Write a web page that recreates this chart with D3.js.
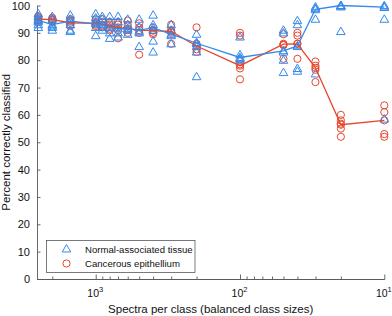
<!DOCTYPE html>
<html>
<head>
<meta charset="utf-8">
<script src="https://cdn.jsdelivr.net/npm/d3@7"></script>
<style>
  body { margin: 0; background: #fff; }
  text { font-family: "Liberation Sans", Arial, Helvetica, sans-serif; }
</style>
</head>
<body>
<div id="chart"></div>
<script>
'use strict';

// spectra per class (x positions, log scale, reversed)
const sizes = [2500, 2000, 1500, 1000, 900, 800, 700, 600, 500, 400, 300, 200, 100, 50, 40, 30, 20, 10];

// individual runs, normal-associated tissue (triangles)
const normalPts = [
  [97, 96, 95, 94.5, 94, 93, 92],
  [96, 95, 93, 92.5, 92, 91],
  [96.5, 95, 94.3, 93, 91, 90.5],
  [97, 95.5, 94, 93.3, 92, 89],
  [96, 95, 93, 92, 91],
  [96, 94, 92, 90, 88],
  [96, 94, 91.5, 90, 88.5],
  [95, 93, 91.5, 91, 89.5],
  [95, 92, 90.6, 90, 85],
  [96.5, 93, 91.8, 91, 87, 83],
  [93, 91, 89.5, 89, 86],
  [89.5, 86.5, 86, 85, 83, 74],
  [88.5, 82, 81, 80.5, 80],
  [91, 90, 83.5, 83, 80, 75.5],
  [94.5, 93, 85.3, 85, 77, 76],
  [99.5, 99, 98.5, 95, 75],
  [100, 100, 99.8, 99.5, 90.5],
  [100, 99.5, 99.3, 95, 58.5]
];

// individual runs, cancerous epithelium (circles)
const cancerPts = [
  [96, 95.5, 95, 94.5, 94],
  [95.5, 95, 94.8, 94.5, 94],
  [95, 94.5, 93.7, 93, 92.5],
  [95, 94, 93.5, 93, 92.5],
  [95, 94, 93, 92.5, 92],
  [94, 93, 92.5, 91.5, 91],
  [94, 93, 92, 91, 88],
  [94.5, 93, 91.5, 91, 90],
  [93.5, 92, 91, 90, 82],
  [92, 91, 90.8, 90, 89.5],
  [93, 91, 90.5, 90, 86],
  [92, 86, 85.3, 84, 83],
  [90, 89, 78.5, 78, 77, 73],
  [89.5, 86, 85.7, 85.5, 80.5],
  [90, 89, 86, 86, 80.5],
  [79.5, 78, 77.2, 76.5, 72],
  [60, 58, 56.8, 56.4, 55, 52],
  [63.5, 61, 58, 53, 52]
];

// summary lines
const normalLine = [94.6, 93, 94.3, 93.3, 93, 92, 91.5, 91.5, 91, 91.8, 89.5, 86.2, 81, 83.4, 85.2, 98.6, 100, 99.4];
const cancerLine = [95, 94.8, 93.7, 93.5, 93, 92.5, 92, 91.5, 91, 90.8, 90.5, 85.2, 78, 85.9, 86, 77.2, 56.4, 58];

// axis ticks
const yTicks = [0, 10, 20, 30, 40, 50, 60, 70, 80, 90, 100];
const xMajor = [1000, 100, 10];
const xMinor = [2000, 900, 800, 700, 600, 500, 400, 300, 200, 90, 80, 70, 60, 50, 40, 30, 20];
const xExp = {1000: '3', 100: '2', 10: '1'};

const blue = '#3389ec';
const red = '#e8462c';

var svg = d3.select('#chart')
    .append('svg')
    .attr('width', 392)
    .attr('height', 316);

var margin = {top: 5.5, right: 7.7, bottom: 37, left: 37},
    width = 392 - margin.left - margin.right,
    height = 316 - margin.top - margin.bottom;

var x = d3.scaleLog().domain([2552, 10]).range([0, width]);
var y = d3.scaleLinear().domain([0, 100]).range([height, 0]);

var g = svg.append('g')
    .attr('transform', 'translate(' + margin.left + ',' + margin.top + ')');

// x axis: minor ticks first, then major with labels
g.append('g')
    .attr('class', 'axis axis--xminor')
    .attr('transform', 'translate(0,' + height + ')')
    .call(d3.axisBottom(x).tickValues(xMinor).tickSize(-2.5).tickSizeOuter(0).tickFormat(''));

var xAxis = g.append('g')
    .attr('class', 'axis axis--x')
    .attr('transform', 'translate(0,' + height + ')')
    .call(d3.axisBottom(x).tickValues(xMajor).tickSize(-4.5).tickSizeOuter(0).tickFormat(''));

xAxis.selectAll('.tick').append('text')
    .attr('y', 18)
    .attr('x', -1)
    .attr('fill', '#111')
    .attr('font-size', 10.5)
    .attr('text-anchor', 'middle')
    .each(function(d) {
      var t = d3.select(this);
      t.append('tspan').text('10');
      t.append('tspan').attr('dy', -5).attr('font-size', 7.5).text(xExp[d]);
    });

// y axis
g.append('g')
    .attr('class', 'axis axis--y')
    .call(d3.axisLeft(y).tickValues(yTicks).tickSize(-3.5).tickSizeOuter(0).tickPadding(7))
    .selectAll('text')
    .attr('font-size', 11)
    .attr('fill', '#111');

svg.selectAll('.axis path, .axis line').attr('stroke', '#555a60').attr('stroke-width', 0.9);

// axis titles
svg.append('text')
    .attr('x', margin.left + width / 2)
    .attr('y', 313)
    .attr('text-anchor', 'middle')
    .attr('font-size', 11.5)
    .attr('fill', '#111')
    .text('Spectra per class (balanced class sizes)');

svg.append('text')
    .attr('transform', 'translate(10,' + (margin.top + height / 2) + ') rotate(-90)')
    .attr('text-anchor', 'middle')
    .attr('font-size', 11.5)
    .attr('fill', '#111')
    .text('Percent correctly classified');

// flatten runs into points
function flatten(pts) {
  var out = [];
  pts.forEach(function(col, i) {
    col.forEach(function(v) { out.push({size: sizes[i], value: v}); });
  });
  return out;
}

var tri = d3.symbol().type(d3.symbolTriangle).size(32);

// cancerous epithellium
g.selectAll('circle.cancer')
    .data(flatten(cancerPts))
    .enter().append('circle')
    .attr('class', 'cancer')
    .attr('cx', function(d) { return x(d.size); })
    .attr('cy', function(d) { return y(d.value); })
    .attr('r', 3.6)
    .attr('fill', 'none')
    .attr('stroke', red)
    .attr('stroke-width', 1);

// normal-associated tissue
g.selectAll('path.normal')
    .data(flatten(normalPts))
    .enter().append('path')
    .attr('class', 'normal')
    .attr('d', tri)
    .attr('transform', function(d) { return 'translate(' + x(d.size) + ',' + (y(d.value) + 0.6) + ')'; })
    .attr('fill', 'none')
    .attr('stroke', blue)
    .attr('stroke-width', 1);

var line = d3.line()
    .x(function(d, i) { return x(sizes[i]); })
    .y(function(d) { return y(d); });

g.append('path')
    .datum(cancerLine)
    .attr('d', line)
    .attr('fill', 'none')
    .attr('stroke', red)
    .attr('stroke-width', 1.3);

g.append('path')
    .datum(normalLine)
    .attr('d', line)
    .attr('fill', 'none')
    .attr('stroke', blue)
    .attr('stroke-width', 1.3);

// legend
var legend = svg.append('g').attr('transform', 'translate(46.5,240.5)');
legend.append('rect')
    .attr('width', 148.5)
    .attr('height', 32)
    .attr('fill', '#fff')
    .attr('stroke', '#555a60')
    .attr('stroke-width', 0.8);

legend.append('path')
    .attr('d', tri)
    .attr('transform', 'translate(20,9)')
    .attr('fill', 'none')
    .attr('stroke', blue)
    .attr('stroke-width', 1);
legend.append('circle')
    .attr('cx', 20).attr('cy', 23)
    .attr('r', 3.6)
    .attr('fill', 'none')
    .attr('stroke', red)
    .attr('stroke-width', 1);

legend.append('text')
    .attr('x', 38.5).attr('y', 12.3)
    .attr('font-size', 9.6)
    .attr('fill', '#111')
    .text('Normal-associated tissue');
legend.append('text')
    .attr('x', 38.5).attr('y', 26.5)
    .attr('font-size', 9.6)
    .attr('fill', '#111')
    .text('Cancerous epithellium');
</script>
</body>
</html>
